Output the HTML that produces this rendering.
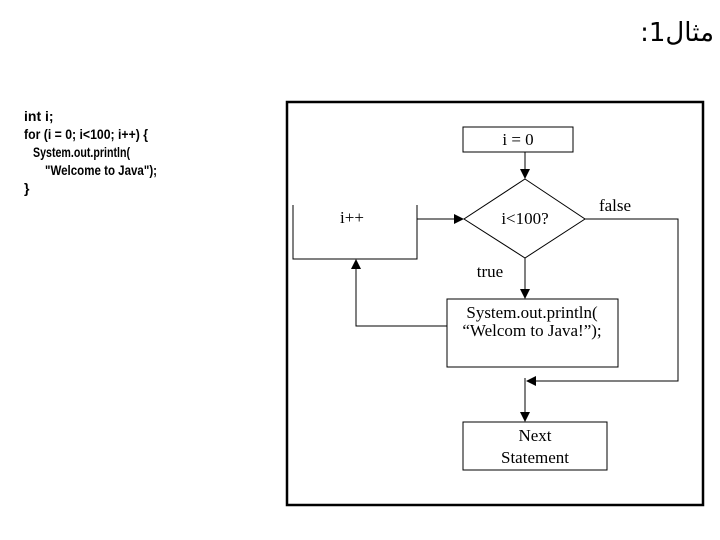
<!DOCTYPE html>
<html><head><meta charset="utf-8"><style>html,body{margin:0;padding:0;background:#fff}svg{display:block}
.t{position:absolute;top:18px;right:6px;font-family:'DejaVu Sans','Liberation Sans',sans-serif;font-size:26px;direction:rtl;white-space:nowrap}</style></head>
<body>
<div class="t">مثال1:</div>
<svg width="720" height="540" viewBox="0 0 720 540" xmlns="http://www.w3.org/2000/svg">
<defs><marker id="a" markerWidth="10" markerHeight="10" refX="9" refY="5" orient="auto" markerUnits="userSpaceOnUse"><path d="M0,0 L10,5 L0,10 z" fill="#000"/></marker></defs>
<g font-family="'Liberation Sans',sans-serif" font-weight="bold" font-size="14">
<text x="24" y="121">int i;</text>
<text x="24" y="139" textLength="124" lengthAdjust="spacingAndGlyphs">for (i = 0; i&lt;100; i++) {</text>
<text x="33" y="157" textLength="97" lengthAdjust="spacingAndGlyphs">System.out.println(</text>
<text x="45" y="175" textLength="112" lengthAdjust="spacingAndGlyphs">"Welcome to Java");</text>
<text x="24" y="193">}</text>
</g>
<g fill="none" stroke="#000">
<rect x="287" y="102" width="416" height="403" stroke-width="2.5"/>
<rect x="463" y="127" width="110" height="25"/>
<path d="M525,179 L585,219 L525,258 L464,219 Z"/>
<path d="M293,205 V259 H417 V205"/>
<rect x="447" y="299" width="171" height="68"/>
<rect x="463" y="422" width="144" height="48"/>
<line x1="525" y1="152" x2="525" y2="178" marker-end="url(#a)"/>
<line x1="417" y1="219" x2="463" y2="219" marker-end="url(#a)"/>
<line x1="525" y1="258" x2="525" y2="298" marker-end="url(#a)"/>
<polyline points="447,326 356,326 356,260" marker-end="url(#a)"/>
<polyline points="585,219 678,219 678,381 527,381" marker-end="url(#a)"/>
<line x1="525" y1="378" x2="525" y2="421" marker-end="url(#a)"/>
</g>
<g font-family="'Liberation Serif',serif" font-size="17" text-anchor="middle">
<text x="518" y="145">i = 0</text>
<text x="525" y="224">i&lt;100?</text>
<text x="352" y="223">i++</text>
<text x="615" y="211">false</text>
<text x="490" y="277">true</text>
<text x="532" y="318">System.out.println(</text>
<text x="532" y="336">“Welcom to Java!”);</text>
<text x="535" y="441">Next</text>
<text x="535" y="463">Statement</text>
</g>
</svg>
</body></html>
